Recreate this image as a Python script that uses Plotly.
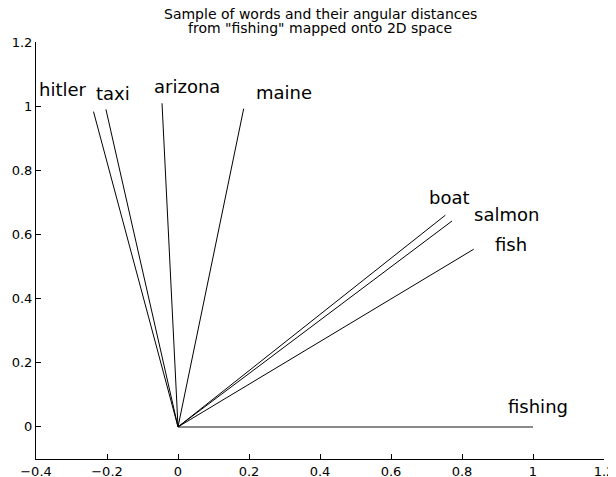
import plotly.graph_objects as go

# ---- data ----
words = ["hitler", "taxi", "arizona", "maine", "boat", "salmon", "fish", "fishing"]
x_end = [-0.238, -0.203, -0.045, 0.185, 0.753, 0.772, 0.833, 1.0]
y_end = [0.983, 0.990, 1.009, 0.992, 0.660, 0.642, 0.554, 0.0]

x_ticks = [-0.4, -0.2, 0, 0.2, 0.4, 0.6, 0.8, 1, 1.2]
x_ticklabels = ["\u22120.4", "\u22120.2", "0", "0.2", "0.4", "0.6", "0.8", "1", "1.2"]
y_ticks = [0, 0.2, 0.4, 0.6, 0.8, 1, 1.2]
y_ticklabels = ["0", "0.2", "0.4", "0.6", "0.8", "1", "1.2"]

title_lines = ["Sample of words and their angular distances",
               "from \"fishing\" mapped onto 2D space"]

# ---- styling (pixel offsets of word labels from vector tips) ----
label_dx = [-31, 7, 25, 40, 4, 54, 37, 5]
label_dy = [22, 16, 17, 16, 18, 6, 5, 20]
title_dy = [28, 14.5]

FONT = "DejaVu Sans"
PAGE_PAD = 8  # default body margin of the html page

fig = go.Figure()
for w, xe, ye in zip(words, x_end, y_end):
    if w == "fishing":
        fig.add_trace(go.Scatter(x=[0, xe], y=[0, ye], mode="lines",
                                 line=dict(color="#8a8a8a", width=2),
                                 showlegend=False, hoverinfo="skip"))
for w, xe, ye in zip(words, x_end, y_end):
    if w != "fishing":
        fig.add_trace(go.Scatter(x=[0, xe], y=[0, ye], mode="lines",
                                 line=dict(color="black", width=1),
                                 showlegend=False, hoverinfo="skip"))

for w, xe, ye, dx, dy in zip(words, x_end, y_end, label_dx, label_dy):
    fig.add_annotation(x=xe, y=ye, xref="x", yref="y", text=w, showarrow=False,
                       xanchor="center", yanchor="middle", xshift=dx, yshift=dy,
                       font=dict(family=FONT, size=18, color="black"))

for t, dy in zip(title_lines, title_dy):
    fig.add_annotation(x=0.5, y=1, xref="paper", yref="paper", text=t,
                       showarrow=False, xanchor="center", yanchor="middle",
                       yshift=dy,
                       font=dict(family=FONT, size=14, color="black"))

axis_common = dict(showgrid=False, zeroline=False, showline=True,
                   linecolor="black", linewidth=1, ticks="inside",
                   ticklen=5, tickcolor="black", tickwidth=1, mirror=False,
                   tickfont=dict(family=FONT, size=13, color="black"),
                   automargin=False)

fig.update_layout(
    width=616 - PAGE_PAD, height=477 - PAGE_PAD,
    margin=dict(l=36 - PAGE_PAD, r=12, t=42 - PAGE_PAD, b=18, pad=0),
    paper_bgcolor="white", plot_bgcolor="white",
    xaxis=dict(range=[-0.4, 1.2], tickmode="array", tickvals=x_ticks,
               ticktext=x_ticklabels, **axis_common),
    yaxis=dict(range=[-0.1, 1.2], tickmode="array", tickvals=y_ticks,
               ticktext=y_ticklabels, **axis_common),
)

fig.write_html("out.html")
